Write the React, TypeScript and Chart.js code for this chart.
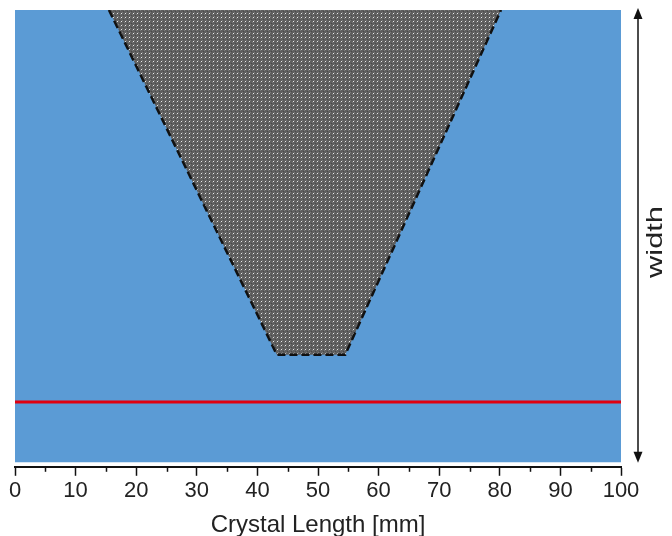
import React, { useEffect, useRef } from "react";
import { Chart, registerables } from "chart.js";

Chart.register(...registerables);

const xTicks = [0, 10, 20, 30, 40, 50, 60, 70, 80, 90, 100];
const minorTicks = [5, 15, 25, 35, 45, 55, 65, 75, 85, 95];
const regionX = [0, 100];
const regionY = [100, 100];
const gapX = [15.5, 43.2, 54.5, 80.2];
const gapY = [100, 23.8, 23.8, 100];
const redX = [0, 100];
const redY = [13.3, 13.3];

const FONT = "'Liberation Sans', Arial, sans-serif";

function makePattern(ctx: CanvasRenderingContext2D) {
  const c = document.createElement("canvas");
  c.width = 4;
  c.height = 4;
  const p = c.getContext("2d")!;
  p.fillStyle = "#5e5e5e";
  p.fillRect(0, 0, 4, 4);
  p.fillStyle = "#7a7a7a";
  p.fillRect(2, 0, 1, 1);
  p.fillRect(0, 2, 1, 1);
  p.fillStyle = "#e8e8e8";
  p.fillRect(1, 1, 1, 1);
  p.fillStyle = "#4a4a4a";
  p.fillRect(3, 3, 1, 1);
  return ctx.createPattern(c, "repeat");
}

const extras = {
  id: "extras",
  afterDraw(chart: any) {
    const ctx = chart.ctx as CanvasRenderingContext2D;
    const xs = chart.scales.x;
    const ca = chart.chartArea;
    ctx.save();
    // minor ticks
    ctx.strokeStyle = "#111";
    ctx.lineWidth = 1.5;
    minorTicks.forEach((v) => {
      const px = Math.round(xs.getPixelForValue(v)) + 0.5;
      ctx.beginPath();
      ctx.moveTo(px, ca.bottom);
      ctx.lineTo(px, ca.bottom + 5);
      ctx.stroke();
    });
    // width arrow
    const ax = 638;
    const top = ca.top - 2;
    const bot = ca.bottom - 4;
    ctx.strokeStyle = "#111";
    ctx.fillStyle = "#111";
    ctx.lineWidth = 1.5;
    ctx.beginPath();
    ctx.moveTo(ax, top + 8);
    ctx.lineTo(ax, bot - 8);
    ctx.stroke();
    ctx.beginPath();
    ctx.moveTo(ax, top);
    ctx.lineTo(ax - 4.5, top + 11);
    ctx.lineTo(ax + 4.5, top + 11);
    ctx.closePath();
    ctx.fill();
    ctx.beginPath();
    ctx.moveTo(ax, bot);
    ctx.lineTo(ax - 4.5, bot - 11);
    ctx.lineTo(ax + 4.5, bot - 11);
    ctx.closePath();
    ctx.fill();
    ctx.translate(656, 242);
    ctx.rotate(-Math.PI / 2);
    ctx.scale(1.4, 1);
    ctx.font = `22px ${FONT}`;
    ctx.textAlign = "center";
    ctx.textBaseline = "middle";
    ctx.fillStyle = "#222";
    ctx.fillText("width", 0, 0);
    ctx.restore();
  },
};

export default function App() {
  const ref = useRef<HTMLCanvasElement>(null);
  useEffect(() => {
    document.body.style.margin = "0";
    const canvas = ref.current!;
    const ctx = canvas.getContext("2d")!;
    const pattern = makePattern(ctx);
    const chart = new Chart(canvas, {
      type: "line",
      data: {
        datasets: [
          {
            data: regionX.map((x, i) => ({ x, y: regionY[i] })),
            borderWidth: 0,
            borderColor: "rgba(0,0,0,0)",
            backgroundColor: "#5b9bd5",
            fill: { value: 0 },
            pointRadius: 0,
            order: 3,
          },
          {
            data: gapX.map((x, i) => ({ x, y: gapY[i] })),
            borderColor: "#111",
            borderWidth: 2.5,
            borderDash: [8, 4],
            backgroundColor: pattern as any,
            fill: "end",
            pointRadius: 0,
            order: 2,
          },
          {
            data: redX.map((x, i) => ({ x, y: redY[i] })),
            borderColor: "#e0000f",
            borderWidth: 3,
            fill: false,
            pointRadius: 0,
            order: 1,
          },
        ],
      },
      options: {
        animation: false,
        responsive: false,
        maintainAspectRatio: false,
        layout: { padding: { left: 15, right: 51, top: 10, bottom: 0 } },
        plugins: { legend: { display: false }, tooltip: { enabled: false } },
        scales: {
          x: {
            type: "linear",
            min: 0,
            max: 100,
            afterBuildTicks: (s: any) => {
              s.ticks = xTicks.map((v) => ({ value: v }));
            },
            ticks: {
              color: "#222",
              font: { size: 22, family: FONT },
              padding: 2,
              maxRotation: 0,
              autoSkip: false,
            },
            grid: {
              drawOnChartArea: false,
              drawTicks: true,
              tickLength: 9,
              tickColor: "#111",
              tickWidth: 1.5,
            },
            border: { color: "#111", width: 2 },
            title: {
              display: true,
              text: "Crystal Length [mm]",
              color: "#222",
              font: { size: 24, family: FONT },
              padding: { top: 5, bottom: -4 },
            },
          },
          y: {
            type: "linear",
            min: -1,
            max: 100,
            display: false,
          },
        },
      },
      plugins: [extras],
    });
    return () => chart.destroy();
  }, []);
  return <canvas ref={ref} width={672} height={536} style={{ display: "block" }} />;
}
